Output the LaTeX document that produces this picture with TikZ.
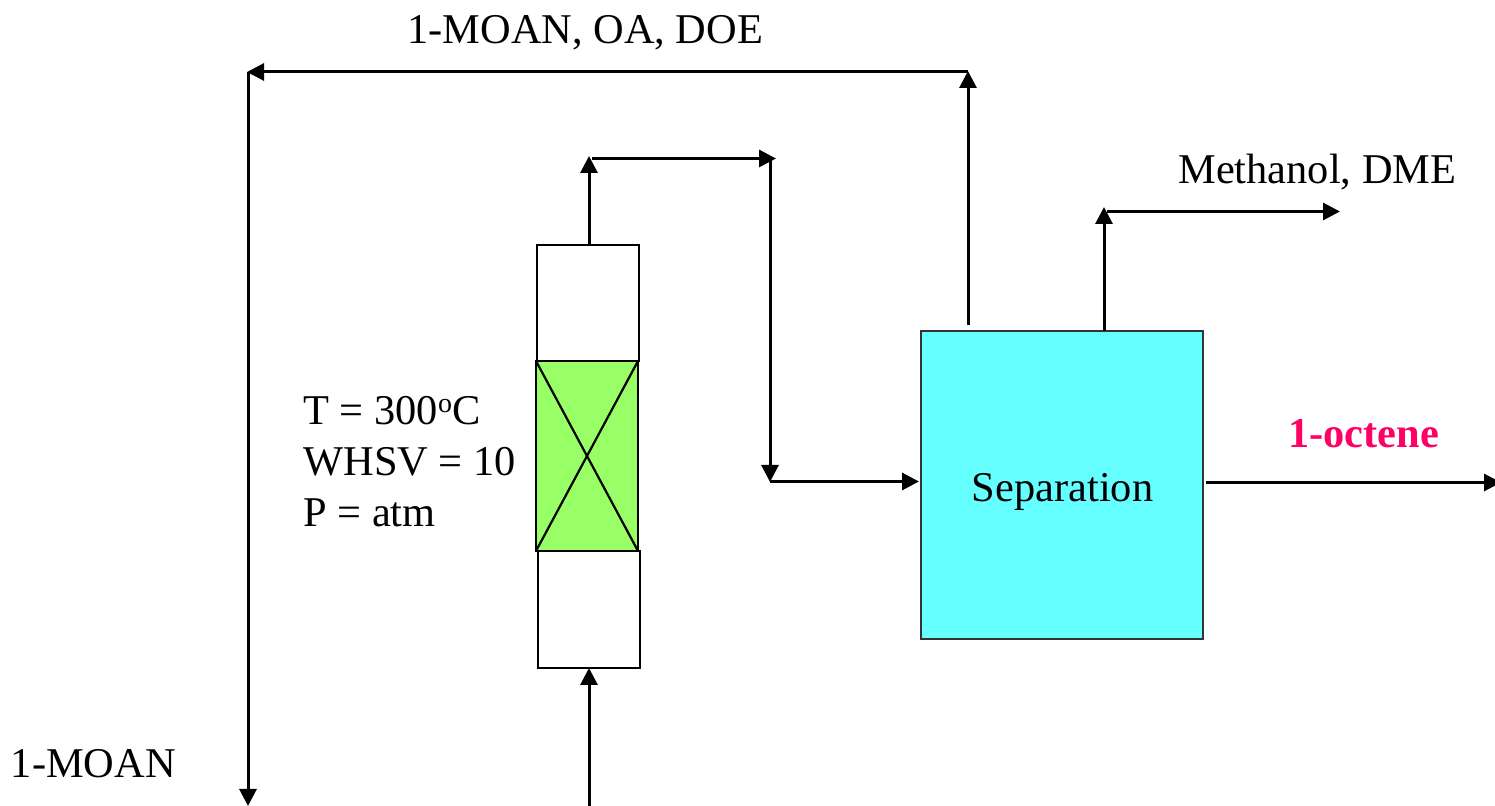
\documentclass[tikz,border=0pt]{standalone}
\usepackage{fontspec}
\setmainfont{Liberation Serif}
\usepackage{tikz}
\usetikzlibrary{arrows.meta,positioning}
\usepackage{xcolor}
\definecolor{bedgreen}{HTML}{99FF66}
\definecolor{sepcyan}{HTML}{66FFFF}
\definecolor{prodpink}{HTML}{FF0066}

\begin{document}
\begin{tikzpicture}[
      x=0.5pt,y=-0.5pt,
      node distance=0pt,
      zone/.style={draw,line width=1.3pt,minimum width=51pt,outer sep=0pt,inner sep=0pt},
      sepbox/.style={draw=black!80,line width=1pt,fill=sepcyan,minimum width=141pt,
                  minimum height=154pt,outer sep=0pt,inner sep=0pt},
      lbl/.style={font=\fontsize{21.2}{25.5}\selectfont,inner sep=0pt,anchor=base west},
      arr/.style={-{Triangle[length=8.5pt,width=8.5pt]},line width=1.5pt}]
    \useasboundingbox (0,0) rectangle (1495,806);

    \node[zone,fill=bedgreen,minimum height=95pt] (bed) at (587,456) {};
    \node[zone,minimum height=58pt,above=of bed,xshift=0.5pt] (upper) {};
    \node[zone,minimum height=58.5pt,below=of bed,xshift=1pt] (lower) {};
    \draw[line width=1.1pt] (bed.north west) -- (bed.south east);
    \draw[line width=1.1pt] (bed.north east) -- (bed.south west);

    \node[sepbox] (sep) at (1062,485) {};
    \node[lbl] (septext) at (971.5,502) {Separation};

    % reactor outlet to separation
    \coordinate (topleft) at (589,156);
    \coordinate (topstart) at (592,158.5);
    \coordinate (topright) at (776,158.5);
    \coordinate (dropstart) at (770,158);
    \coordinate (dropend) at (770,482);
    \coordinate (sepin) at (919,481.5);
    \draw[arr] (upper.north -| topleft) -- (topleft);
    \draw[arr] (topstart) -- (topright);
    \draw[arr] (dropstart) -- (dropend);
    \draw[arr] (dropend |- sepin) -- (sepin);

    % recycle
    \coordinate (recstart) at (968,325);
    \coordinate (recup) at (968,71);
    \coordinate (recleft) at (247,72);
    \coordinate (recdown) at (248,806);
    \draw[arr] (recstart) -- (recup);
    \draw[arr] (recup |- recleft) -- (recleft);
    \draw[arr] (recdown |- recleft) -- (recdown);

    % feed
    \coordinate (feed) at (589,806);
    \draw[arr] (feed) -- (lower.south);

    % light ends
    \coordinate (lightup) at (1104,207);
    \coordinate (lightstart) at (1107,211.5);
    \coordinate (lightend) at (1340,211.5);
    \draw[arr] (sep.north -| lightup) -- (lightup);
    \draw[arr] (lightstart) -- (lightend);

    % product
    \coordinate (prodstart) at (1206,482.5);
    \coordinate (prodend) at (1501,482.5);
    \draw[arr] (prodstart) -- (prodend);

    \node[lbl] (recycle) at (407,44) {1-MOAN, OA, DOE};
    \node[lbl] (lights) at (1178,184) {Methanol, DME};
    \node[lbl,text=prodpink,font=\fontsize{21.2}{25.5}\selectfont\bfseries] (octene) at (1288,447.5) {1-octene};
    \node[lbl] (temp) at (303,425) {T = 300\raisebox{0.65ex}{\fontsize{14}{14}\selectfont o}C};
    \node[lbl] (whsv) at (303,476) {WHSV = 10};
    \node[lbl] (press) at (303,527) {P = atm};
    \node[lbl] (moan) at (10.5,777) {1-MOAN};
  \end{tikzpicture}
\end{document}
